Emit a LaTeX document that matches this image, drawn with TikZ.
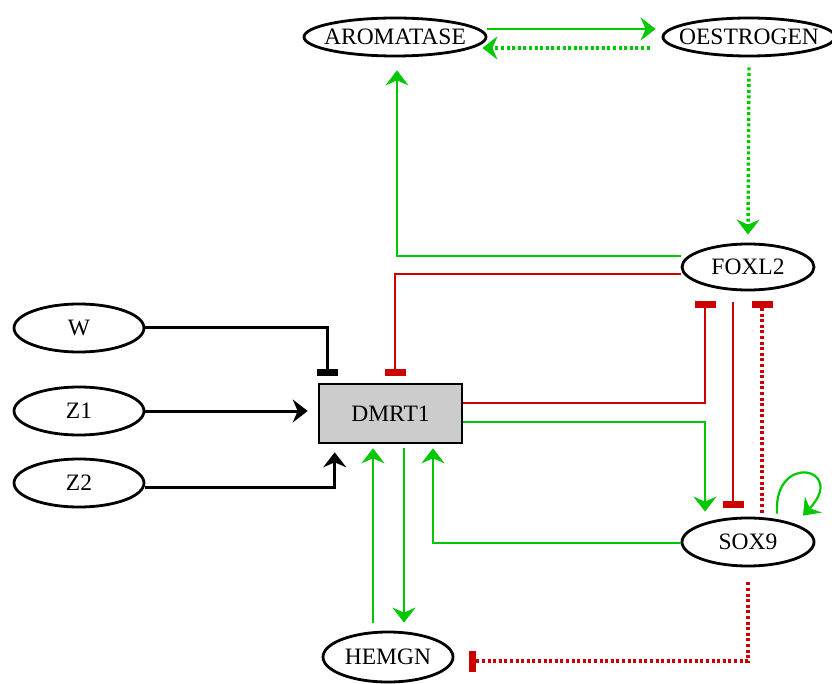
\documentclass[tikz,border=0pt]{standalone}
\usepackage{fontspec}
\setmainfont{Liberation Serif}
\usetikzlibrary{arrows.meta,shapes.geometric,calc}
\definecolor{actg}{RGB}{0,200,0}
\definecolor{inhr}{RGB}{204,0,0}
\definecolor{boxgray}{RGB}{204,204,204}
\newcommand{\gtext}[1]{\makebox[0pt]{#1}}
\begin{document}
\begin{tikzpicture}[x=1pt,y=-1pt,
  gene/.style={ellipse, draw, line width=2.8pt, inner sep=0pt, font=\fontsize{23.5}{26}\selectfont},
  headA/.style={-{Stealth[length=15pt,width=23pt,inset=5pt]}},
  headT/.style={-{Rectangle[length=7pt,width=21pt]}},
  act/.style={draw=actg, line width=2.2pt, headA},
  actd/.style={draw=actg, line width=3.4pt, dash pattern=on 3pt off 2.6pt, headA},
  actk/.style={draw=black, line width=3pt, headA},
  inh/.style={draw=inhr, line width=2.2pt, headT},
  inhd/.style={draw=inhr, line width=3.4pt, dash pattern=on 3pt off 2.6pt, headT},
  inhk/.style={draw=black, line width=3pt, headT}
]
\useasboundingbox (0,0) rectangle (832,684);
\node[gene, minimum width=182pt, minimum height=38pt] (arom) at (395,37) {\gtext{AROMATASE}};
\node[gene, minimum width=172pt, minimum height=38pt] (oest) at (749,37) {\gtext{OESTROGEN}};
\node[gene, minimum width=132pt, minimum height=46pt] (foxl2) at (748,267) {\gtext{FOXL2}};
\node[gene, minimum width=132pt, minimum height=48pt] (sox9) at (748,542) {\gtext{SOX9}};
\node[gene, minimum width=130pt, minimum height=48pt] (w) at (79,328) {\gtext{W}};
\node[gene, minimum width=130pt, minimum height=48pt] (z1) at (79,411) {\gtext{Z1}};
\node[gene, minimum width=130pt, minimum height=48pt] (z2) at (79,483) {\gtext{Z2}};
\node[gene, minimum width=130pt, minimum height=50pt] (hemgn) at (388,657) {\gtext{HEMGN}};
\node[draw, fill=boxgray, line width=2.6pt, minimum width=143pt, minimum height=59pt, inner sep=0pt,
      font=\fontsize{23.5}{26}\selectfont] (dmrt) at (390.5,413.5) {DMRT1};

\draw[act] ($(arom.east)+(0,-8)$) -- ($(oest.west)+(-6,-8)$);
\draw[actd] ($(oest.west)+(-12,11)$) -- ($(arom.east)+(-5,11)$);
\draw[actd] ($(oest.south)+(0,10)$) -- ($(foxl2.north)+(0,-8)$);
\draw[act] ($(foxl2.west)+(0,-11)$) -| ($(arom.south)+(2,13)$);
\draw[inh] ($(foxl2.west)+(0,7)$) -| ($(dmrt.north)+(4.5,-7)$);
\draw[inhk] (w.east) -| ($(dmrt.north west)+(10,-7)$);
\draw[actk] (z1.east) -- ($(dmrt.west |- z1.east)+(-10,0)$);
\draw[actk] ($(z2.east)+(0,4)$) -| ($(dmrt.south west)+(17,8)$);
\draw[act] ($(hemgn.north)+(-15,-8)$) -- ($(dmrt.south)+(-17.5,4)$);
\draw[act] ($(dmrt.south)+(13.5,4)$) -- ($(hemgn.north)+(16,-8)$);
\draw[act] ($(sox9.west)+(0,1)$) -| ($(dmrt.south)+(42.5,4)$);
\draw[inh] ($(dmrt.east)+(0,-10.5)$) -| ($(foxl2.south)+(-43,10)$);
\draw[act] ($(dmrt.east)+(0,8.5)$) -| ($(sox9.north)+(-43,-5)$);
\draw[inh] ($(foxl2.south)+(-15,11)$) -- ($(sox9.north)+(-15,-9)$);
\draw[inhd] ($(sox9.north)+(14,-4)$) -- ($(foxl2.south)+(14,10)$);
\draw[act] ($(sox9.north)+(29,-3)$) .. controls +(-4,-62) and +(45,-48) .. ($(sox9.north)+(55,-1)$);
\draw[inhd] ($(sox9.south)+(0,15)$) |- ($(hemgn.east)+(15,4)$);
\end{tikzpicture}
\end{document}
